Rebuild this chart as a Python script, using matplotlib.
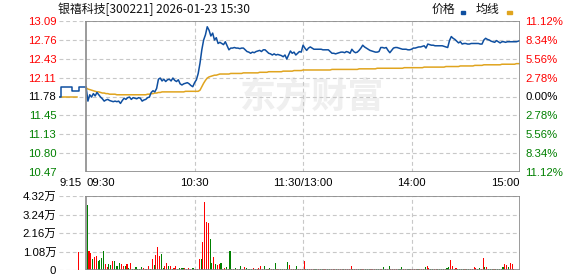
import matplotlib
matplotlib.use("Agg")
import matplotlib.pyplot as plt
from matplotlib.patches import Rectangle
import numpy as np

plt.rcParams['font.family'] = ['Liberation Sans', 'Noto Sans CJK SC', 'DejaVu Sans']

# ---------------- data ----------------
title = "银禧科技[300221] 2026-01-23 15:30"
prev_close = 11.78
pct_levels = [11.12, 8.34, 5.56, 2.78, 0.0, -2.78, -5.56, -8.34, -11.12]
price_tick_labels = ["13.09", "12.76", "12.43", "12.11", "11.78", "11.45", "11.13", "10.80", "10.47"]
pct_tick_labels = ["11.12%", "8.34%", "5.56%", "2.78%", "0.00%", "2.78%", "5.56%", "8.34%", "11.12%"]
time_ticks = [-15, 0, 60, 120, 180, 240]
time_labels = ["9:15", "09:30", "10:30", "11:30/13:00", "14:00", "15:00"]

pre_minutes = [-15, -14, -13, -12, -11, -10, -9, -8, -7, -6, -5, -4, -3, -2, -1]
pre_price = [11.78, 11.94, 11.94, 11.94, 11.94, 11.94, 11.94, 11.87, 11.87, 11.87, 11.87,
             11.94, 11.94, 11.94, 11.94]
pre_avg_minutes = [-15, -14, -13, -12, -11, -10, -9, -8, -7, -6, -5]
pre_avg = [11.78, 11.78, 11.78, 11.78, 11.78, 11.78, 11.78, 11.78, 11.78, 11.78, 11.78]
pre_vol_minute = [-5]
pre_vol = [1.07]

price = [
    11.94, 11.70, 11.81, 11.77, 11.83, 11.79, 11.85, 11.81, 11.77, 11.74,
    11.70, 11.72, 11.73, 11.71, 11.70, 11.69, 11.70, 11.69, 11.70, 11.66,
    11.71, 11.75, 11.73, 11.76, 11.77, 11.73, 11.76, 11.75, 11.74, 11.76,
    11.75, 11.70, 11.72, 11.73, 11.76, 11.77, 11.85, 11.88, 11.86, 11.92,
    12.08, 12.10, 12.05, 12.08, 12.04, 12.07, 12.08, 12.05, 12.10, 12.06,
    12.04, 12.07, 12.00, 11.98, 12.00, 12.01, 12.02, 12.00, 11.97, 11.95,
    12.02, 12.07, 12.18, 12.36, 12.59, 12.76, 12.85, 12.99, 12.93, 12.83,
    12.88, 12.76, 12.80, 12.70, 12.72, 12.70, 12.68, 12.73, 12.66, 12.59,
    12.62, 12.62, 12.63, 12.62, 12.62, 12.61, 12.62, 12.62, 12.59, 12.56,
    12.55, 12.53, 12.55, 12.54, 12.56, 12.57, 12.58, 12.56, 12.59, 12.59,
    12.56, 12.53, 12.52, 12.50, 12.52, 12.50, 12.51, 12.50, 12.49, 12.47,
    12.50, 12.43, 12.50, 12.57, 12.53, 12.55, 12.50, 12.53, 12.56, 12.55,
    12.67, 12.62, 12.58, 12.62, 12.64, 12.62, 12.60, 12.60, 12.60, 12.60,
    12.60, 12.59, 12.59, 12.59, 12.59, 12.56, 12.53, 12.53, 12.52, 12.53,
    12.54, 12.55, 12.55, 12.54, 12.56, 12.55, 12.53, 12.60, 12.56, 12.54,
    12.55, 12.58, 12.62, 12.67, 12.64, 12.62, 12.60, 12.58, 12.57, 12.56,
    12.55, 12.55, 12.56, 12.63, 12.63, 12.62, 12.63, 12.58, 12.54, 12.58,
    12.62, 12.63, 12.63, 12.62, 12.61, 12.60, 12.60, 12.60, 12.59, 12.59,
    12.60, 12.62, 12.62, 12.63, 12.64, 12.64, 12.65, 12.66, 12.62, 12.69,
    12.68, 12.67, 12.67, 12.66, 12.66, 12.66, 12.66, 12.66, 12.65, 12.64,
    12.63, 12.75, 12.82, 12.79, 12.77, 12.74, 12.71, 12.73, 12.69, 12.70,
    12.70, 12.69, 12.69, 12.70, 12.70, 12.70, 12.70, 12.70, 12.69, 12.69,
    12.76, 12.79, 12.77, 12.76, 12.74, 12.73, 12.72, 12.75, 12.73, 12.71,
    12.73, 12.73, 12.72, 12.73, 12.73, 12.73, 12.73, 12.73, 12.73, 12.74,
    12.75,
]

avg_price = [
    11.93, 11.91, 11.90, 11.89, 11.88, 11.87, 11.86, 11.86, 11.85, 11.84,
    11.84, 11.83, 11.83, 11.82, 11.82, 11.82, 11.82, 11.81, 11.81, 11.81,
    11.81, 11.81, 11.81, 11.81, 11.81, 11.81, 11.81, 11.81, 11.81, 11.81,
    11.81, 11.81, 11.81, 11.81, 11.82, 11.82, 11.83, 11.83, 11.84, 11.84,
    11.85, 11.85, 11.86, 11.86, 11.86, 11.86, 11.86, 11.86, 11.86, 11.86,
    11.86, 11.86, 11.86, 11.86, 11.86, 11.87, 11.87, 11.87, 11.87, 11.87,
    11.87, 11.87, 11.87, 11.89, 11.95, 12.01, 12.06, 12.10, 12.12, 12.13,
    12.14, 12.15, 12.15, 12.16, 12.17, 12.17, 12.17, 12.17, 12.17, 12.17,
    12.18, 12.18, 12.18, 12.18, 12.18, 12.18, 12.18, 12.19, 12.19, 12.19,
    12.19, 12.19, 12.19, 12.19, 12.19, 12.19, 12.20, 12.20, 12.20, 12.20,
    12.20, 12.21, 12.21, 12.21, 12.21, 12.21, 12.21, 12.21, 12.21, 12.22,
    12.22, 12.22, 12.22, 12.22, 12.22, 12.23, 12.23, 12.23, 12.23, 12.23,
    12.24, 12.24, 12.24, 12.24, 12.24, 12.24, 12.24, 12.24, 12.24, 12.24,
    12.24, 12.24, 12.24, 12.24, 12.24, 12.24, 12.25, 12.25, 12.25, 12.25,
    12.25, 12.25, 12.25, 12.25, 12.25, 12.25, 12.25, 12.25, 12.25, 12.25,
    12.25, 12.26, 12.26, 12.26, 12.26, 12.26, 12.26, 12.26, 12.26, 12.26,
    12.26, 12.27, 12.27, 12.27, 12.27, 12.27, 12.27, 12.27, 12.27, 12.27,
    12.27, 12.27, 12.27, 12.27, 12.27, 12.27, 12.28, 12.28, 12.28, 12.28,
    12.28, 12.28, 12.28, 12.28, 12.28, 12.28, 12.28, 12.29, 12.29, 12.29,
    12.29, 12.29, 12.29, 12.29, 12.29, 12.29, 12.29, 12.29, 12.29, 12.30,
    12.30, 12.30, 12.30, 12.30, 12.30, 12.30, 12.30, 12.31, 12.31, 12.31,
    12.31, 12.31, 12.31, 12.31, 12.31, 12.32, 12.32, 12.32, 12.32, 12.32,
    12.33, 12.33, 12.33, 12.33, 12.33, 12.33, 12.33, 12.33, 12.33, 12.33,
    12.34, 12.34, 12.34, 12.34, 12.34, 12.34, 12.34, 12.34, 12.35, 12.35,
    12.35,
]

# volume in 万 shares, one bar per minute (09:30 .. 15:00)
volume = [
    3.79, 1.11, 0.97, 0.64, 0.76, 0.82, 0.53, 0.58, 0.72, 1.11,
    0.35, 0.18, 0.35, 0.31, 0.53, 0.53, 0.23, 0.23, 0.41, 0.35,
    0.23, 0.23, 0.35, 0.12, 0.41, 0.06, 0.06, 0.18, 0.06, 0.06,
    0.18, 0.12, 0.06, 0.06, 0.23, 0.06, 0.64, 0.29, 0.88, 1.34,
    0.82, 0.93, 0.12, 0.23, 0.41, 0.23, 0.23, 0.06, 0.12, 0.23,
    0.06, 0.12, 0.12, 0.12, 0.12, 0.06, 0.12, 0.06, 0.12, 0.12,
    0.06, 0.06, 0.64, 0.64, 1.63, 3.97, 2.80, 2.74, 1.81, 0.41,
    0.76, 0.35, 0.29, 0.35, 0.41, 0.06, 0.12, 0.18, 0.06, 1.11,
    0.06, 0.06, 0.12, 0.06, 0.06, 0.23, 0.06, 0.18, 0.12, 0.06,
    0.06, 0.06, 0.12, 0.06, 0.06, 0.12, 0.23, 0.06, 0.23, 0.06,
    0.06, 0.12, 0.06, 0.06, 0.41, 0.06, 0.06, 0.06, 0.06, 0.06,
    0.06, 0.47, 0.29, 0.06, 0.06, 0.06, 0.23, 0.06, 0.06, 0.06,
    0.53, 0.06, 0.06, 0.06, 0.06, 0.06, 0.06, 0.06, 0.06, 0.06,
    0.06, 0.06, 0.06, 0.06, 0.06, 0.06, 0.06, 0.06, 0.06, 0.06,
    0.06, 0.06, 0.06, 0.06, 0.06, 0.06, 0.23, 0.06, 0.06, 0.06,
    0.06, 0.06, 0.06, 0.06, 0.06, 0.06, 0.06, 0.06, 0.06, 0.06,
    0.06, 0.06, 0.06, 0.06, 0.18, 0.06, 0.06, 0.23, 0.06, 0.06,
    0.06, 0.06, 0.06, 0.06, 0.18, 0.06, 0.06, 0.06, 0.06, 0.06,
    0.06, 0.06, 0.06, 0.06, 0.06, 0.06, 0.06, 0.18, 0.23, 0.12,
    0.06, 0.06, 0.06, 0.06, 0.06, 0.06, 0.06, 0.06, 0.06, 0.12,
    0.18, 0.58, 0.23, 0.06, 0.12, 0.06, 0.06, 0.06, 0.06, 0.06,
    0.06, 0.06, 0.06, 0.06, 0.18, 0.12, 0.06, 0.12, 0.06, 0.70,
    0.18, 0.18, 0.06, 0.06, 0.06, 0.06, 0.06, 0.06, 0.06, 0.06,
    0.18, 0.35, 0.29, 0.18, 0.41, 0.35, 0.06, 0.00, 0.00, 0.00,
    0.82,
]
# r = up (red), g = down (green), one char per bar
vol_dir = "".join([
    "grrgrrgggg", "rrggrggggr", "rgrgrgrggg", "grrrrgrgrr", "rggrrgrgrr",
    "ggggrrrrgg", "rrrgrrrrgg", "rgrrgrrgrg", "grgrggrrgg", "ggrgrrrrgg",
    "rgrggrrggr", "ggrrrggrrr", "rggrrrggrg", "grrggrrrgr", "rrgrrrrgrr",
    "ggrrgggrrr", "ggrrggrgrr", "rrgggrrggr", "rrrgrrrgrr", "ggrrggggrg",
    "grrgrggggr", "ggrrrrggrr", "grgggrgggg", "grrgrrrgrr", "r",
])

minutes = list(range(len(price)))
vol_ticks = [0, 1.08, 2.16, 3.24, 4.32]
vol_tick_labels = ["0", "1.08万", "2.16万", "3.24万", "4.32万"]

# ---------------- styling ----------------
W, H = 578, 276
BLUE = '#0f4fa0'
GOLD = '#e0a41e'
RED = '#ff0000'
GREEN = '#008000'
FRAME = '#8a8a8a'
GRID = '#c8c8c8'

fig = plt.figure(figsize=(W / 100, H / 100), dpi=100)

def px_rect(l, t, r, b):
    return [l / W, 1 - b / H, (r - l) / W, (b - t) / H]

ax = fig.add_axes(px_rect(59, 21, 520, 172))
axv = fig.add_axes(px_rect(59, 196, 520, 270))

price_levels = [prev_close * (1 + p / 100) for p in pct_levels]
ylo, yhi = prev_close * (1 - 0.1112), prev_close * (1 + 0.1112)

for a in (ax, axv):
    a.set_xlim(-15, 240)
    for s in a.spines.values():
        s.set_visible(False)
    a.tick_params(length=0)

ax.set_ylim(ylo, yhi)
axv.set_ylim(0, 4.32)

dash = dict(color=GRID, lw=0.8, ls=(0, (3.5, 2.5)), zorder=1)
for lv in price_levels:
    ax.plot([-15, 240], [lv, lv], **dash)
for lv in vol_ticks:
    axv.plot([-15, 240], [lv, lv], **dash)
for t in [60, 120, 180]:
    ax.plot([t, t], [ylo, yhi], **dash)
    axv.plot([t, t], [0, 4.32], **dash)

fr = dict(color=FRAME, lw=1.2, zorder=5, solid_capstyle='projecting')
ax.plot([0, 240, 240, 0, 0], [yhi, yhi, ylo, ylo, yhi], **fr)
axv.plot([0, 240, 240, 0, 0], [4.32, 4.32, 0, 0, 4.32], **fr)

# watermark
ax.text(312 / W, 1 - 97 / H, "东方财富", transform=fig.transFigure, fontsize=26,
        family=['Noto Sans CJK SC'], weight='bold', color='#efefef',
        ha='center', va='center', zorder=0.5)

# price lines
ax.plot(pre_minutes + [0], pre_price + [price[0]], color=BLUE, lw=1.1,
        drawstyle='steps-post', zorder=4)
ax.plot(pre_avg_minutes, pre_avg, color=GOLD, lw=1.1, zorder=3)
ax.plot(minutes, avg_price, color=GOLD, lw=1.1, zorder=3)
ax.plot(minutes, price, color=BLUE, lw=1.1, zorder=4)

# volume bars
cols = [RED if c == 'r' else GREEN for c in vol_dir[:len(volume)]]
axv.bar(np.array(minutes) + 0.6, volume, width=0.6, color=cols, zorder=3)
axv.bar(np.array(pre_vol_minute) + 0.6, pre_vol, width=0.6, color=RED, zorder=3)

# y tick labels (price, left)
ax.set_yticks(price_levels)
ax.set_yticklabels(price_tick_labels, fontsize=8.2)
ax.tick_params(axis='y', pad=2)
for lab, p in zip(ax.get_yticklabels(), pct_levels):
    lab.set_color(RED if p > 0 else (GREEN if p < 0 else 'black'))

# right pct labels
ax2 = ax.twinx()
ax2.set_ylim(ylo, yhi)
ax2.set_xlim(-15, 240)
for s in ax2.spines.values():
    s.set_visible(False)
ax2.tick_params(length=0, pad=4)
ax2.set_yticks(price_levels)
ax2.set_yticklabels(pct_tick_labels, fontsize=8.2)
for lab, p in zip(ax2.get_yticklabels(), pct_levels):
    lab.set_color(RED if p > 0 else (GREEN if p < 0 else 'black'))

# x tick labels
ax.set_xticks(time_ticks)
ax.set_xticklabels(time_labels, fontsize=8.2)
ax.tick_params(axis='x', pad=4)
has = ['left', 'left', 'center', 'center', 'center', 'right']
for lab, h in zip(ax.get_xticklabels(), has):
    lab.set_ha(h)

# volume y labels
axv.set_yticks(vol_ticks)
axv.set_yticklabels(vol_tick_labels, fontsize=8.2)
axv.tick_params(axis='y', pad=2)
axv.set_xticks([])

# title & legend
fig.text(58 / W, 1 - 9 / H, title, fontsize=8.6, family=['Noto Sans CJK SC'],
         ha='left', va='center', color='#111111')
fig.text(432 / W, 1 - 9 / H, "价格", fontsize=8.6, family=['Noto Sans CJK SC'],
         ha='left', va='center', color='#111111')
fig.text(476 / W, 1 - 9 / H, "均线", fontsize=8.6, family=['Noto Sans CJK SC'],
         ha='left', va='center', color='#111111')
fig.add_artist(Rectangle((461 / W, 1 - 14 / H), 4 / W, 2.5 / H,
                         transform=fig.transFigure, color=BLUE))
fig.add_artist(Rectangle((507 / W, 1 - 14 / H), 5 / W, 2.5 / H,
                         transform=fig.transFigure, color=GOLD))

fig.savefig("out.png", dpi=100)
